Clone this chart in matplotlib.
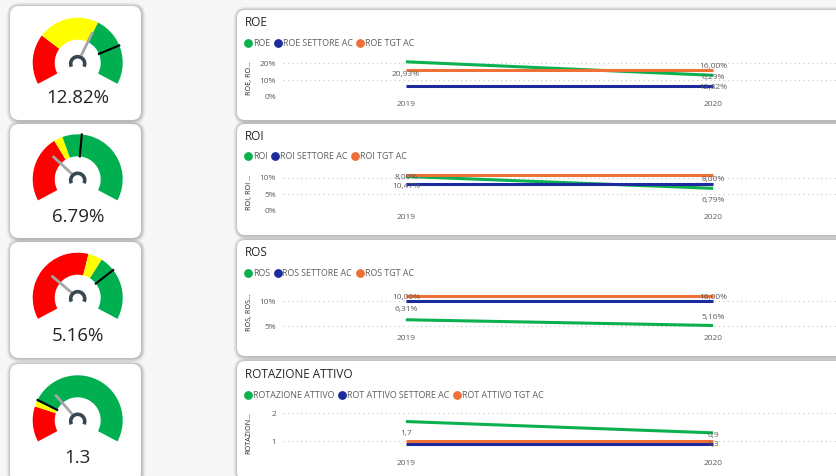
import math
import matplotlib
matplotlib.use('Agg')
import matplotlib.pyplot as plt
from matplotlib.patches import Wedge, FancyBboxPatch, Arc
from matplotlib.lines import Line2D

plt.rcParams['font.family'] = ['Open Sans', 'DejaVu Sans']

W, H = 836, 476

# ---------------- data ----------------
years = [2019, 2020]
year_labels = ["2019", "2020"]

roe = [20.93, 12.82]
roe_settore = [6.29, 6.29]
roe_tgt = [16.0, 16.0]

roi = [10.47, 6.79]
roi_settore = [8.0, 8.0]
roi_tgt = [11.0, 11.0]

ros = [6.31, 5.16]
ros_settore = [10.0, 10.0]
ros_tgt = [11.0, 11.0]

rot = [1.7, 1.3]
rot_settore = [0.9, 0.9]
rot_tgt = [1.0, 1.0]

gauge_values = [12.82, 6.79, 5.16, 1.3]
gauge_texts = ["12.82%", "6.79%", "5.16%", "1.3"]
gauge_max = [21.0, 22.6, 17.9, 4.0]
gauge_red_end = [5.8, 8.3, 10.0, 0.78]
gauge_yellow_end = [12.9, 9.4, 11.4, 0.9]
gauge_target = [16.5, 11.8, 12.9, 0.93]

GREEN = '#0BB04F'
BLUE = '#1B2A9C'
ORANGE = '#EE7037'
TXT = '#252423'
GREY = '#605E5C'


def pct(v):
    return f"{v:.2f}".replace('.', ',') + '%'


def dec(v):
    return f"{v:.1f}".replace('.', ',')


panels = [
    dict(title="ROE", names=["ROE", "ROE SETTORE AC", "ROE TGT AC"],
         series=[roe, roe_settore, roe_tgt], fmt=pct, ylabel="ROE, RO…",
         ylim=(0, 22), yticks=[0, 10, 20], yticklabels=["0%", "10%", "20%"],
         card=(237, 10, 850, 120), axpx=(60.0, 96.7), title_y=22, leg_y=44,
         # (text series, year idx, anchor series, pixel offset downwards)
         labels=[(0, 0, 0, 13), (2, 1, 2, -4), (1, 1, 0, 2), (0, 1, 1, 1)]),
    dict(title="ROI", names=["ROI", "ROI SETTORE AC", "ROI TGT AC"],
         series=[roi, roi_settore, roi_tgt], fmt=pct, ylabel="ROI, ROI …",
         ylim=(0, 11.5), yticks=[0, 5, 10], yticklabels=["0%", "5%", "10%"],
         card=(237, 124, 850, 235), axpx=(173.1, 210.3), title_y=136, leg_y=157,
         labels=[(1, 0, 0, 1), (0, 0, 1, 2), (1, 1, 1, -5), (0, 1, 0, 12)]),
    dict(title="ROS", names=["ROS", "ROS SETTORE AC", "ROS TGT AC"],
         series=[ros, ros_settore, ros_tgt], fmt=pct, ylabel="ROS, ROS…",
         ylim=(4, 11.5), yticks=[5, 10], yticklabels=["5%", "10%"],
         card=(237, 240, 850, 356), axpx=(293.8, 331.3), title_y=253, leg_y=274,
         labels=[(1, 0, 2, 1), (0, 0, 0, -10), (1, 1, 2, 1), (0, 1, 0, -8)]),
    dict(title="ROTAZIONE ATTIVO",
         names=["ROTAZIONE ATTIVO", "ROT ATTIVO SETTORE AC", "ROT ATTIVO TGT AC"],
         series=[rot, rot_settore, rot_tgt], fmt=dec, ylabel="ROTAZION…",
         ylim=(0.5, 2.1), yticks=[1, 2], yticklabels=["1", "2"],
         card=(237, 361, 850, 480), axpx=(410.2, 455.5), title_y=374, leg_y=396,
         labels=[(0, 0, 0, 12), (1, 1, 0, 3), (0, 1, 1, 0)]),
]

colors = [GREEN, BLUE, ORANGE]

fig = plt.figure(figsize=(W / 100, H / 100), dpi=100)
fig.patch.set_facecolor('#F7F7F7')

bg = fig.add_axes([0, 0, 1, 1])
bg.set_xlim(0, W)
bg.set_ylim(0, H)
bg.axis('off')
bg.set_zorder(0)


def card(x0, y0, x1, y1, r=8):
    # y in pixel (top-down)
    for k, a in [(4, 0.035), (3, 0.05), (2, 0.07), (1, 0.09)]:
        bg.add_patch(FancyBboxPatch((x0 - k + 0.5, H - y1 - k - 0.5), (x1 - x0) + 2 * k, (y1 - y0) + 2 * k,
                                    boxstyle=f"round,pad=0,rounding_size={r + k}",
                                    fc='#000000', ec='none', alpha=a, zorder=1))
    bg.add_patch(FancyBboxPatch((x0, H - y1), x1 - x0, y1 - y0,
                                boxstyle=f"round,pad=0,rounding_size={r}",
                                fc='white', ec='none', zorder=2))


# ---------------- gauges ----------------
gauge_cards = [(10, 6, 141, 120), (10, 124, 141, 238), (10, 242, 141, 358), (10, 364, 141, 482)]
gauge_cy = [62.7, 179.3, 297.7, 420.3]
value_y = [98, 216.7, 336, 457.7]
A0, SPAN = 208.0, 236.0
R, RIN = 45.0, 23.0
CX = 77.7

for i in range(4):
    card(*gauge_cards[i], r=9)
    cx, cy = CX, H - gauge_cy[i]
    mx = gauge_max[i]

    def ang(v):
        return A0 - SPAN * v / mx

    a_red = ang(gauge_red_end[i])
    a_yel = ang(gauge_yellow_end[i])
    bg.add_patch(Wedge((cx, cy), R, a_red, A0, width=R - RIN, fc='#FF0000', ec='none', zorder=3))
    bg.add_patch(Wedge((cx, cy), R, a_yel, a_red, width=R - RIN, fc='#FFFF00', ec='none', zorder=3))
    bg.add_patch(Wedge((cx, cy), R, A0 - SPAN, a_yel, width=R - RIN, fc='#00B050', ec='none', zorder=3))
    at = math.radians(ang(gauge_target[i]))
    bg.plot([cx + RIN * math.cos(at), cx + R * math.cos(at)],
            [cy + RIN * math.sin(at), cy + R * math.sin(at)], color='black', lw=1.5, zorder=4)
    av = math.radians(ang(gauge_values[i]))
    bg.plot([cx + 9 * math.cos(av), cx + 33 * math.cos(av)],
            [cy + 9 * math.sin(av), cy + 33 * math.sin(av)], color='#A6A6A6', lw=2, zorder=4,
            solid_capstyle='round')
    bg.add_patch(Arc((cx, cy - 1), 14, 14, theta1=-25, theta2=205, color='#37474F', lw=2.6, zorder=5))
    bg.text(cx, H - value_y[i], gauge_texts[i], ha='center', va='center', fontsize=13.5, color=TXT, zorder=5)

# ---------------- line charts ----------------
AX_L, AX_R = 283, 836
for p in panels:
    card(*p['card'], r=8)
    top, bot = p['axpx']
    ax = fig.add_axes([AX_L / W, 1 - bot / H, (AX_R - AX_L) / W, (bot - top) / H])
    ax.set_zorder(2)
    ax.set_facecolor('none')
    ax.set_xlim(2018.6, 2020.4)
    ax.set_ylim(*p['ylim'])
    for s, c in zip(p['series'], colors):
        ax.plot(years, s, color=c, lw=2.2, solid_capstyle='butt', zorder=3)
    ax.set_xticks(years)
    ax.set_xticklabels(year_labels)
    ax.set_yticks(p['yticks'])
    ax.set_yticklabels(p['yticklabels'])
    ax.tick_params(length=0, labelsize=6, colors=GREY)
    ax.tick_params(axis='x', pad=3)
    ax.tick_params(axis='y', pad=5)
    ax.grid(axis='y', color='#C8C6C4', linestyle=(0, (1, 3)), lw=0.8)
    ax.grid(axis='x', visible=False)
    for sp in ax.spines.values():
        sp.set_visible(False)
    for (ts, yi, an, dy) in p['labels']:
        ax.annotate(p['fmt'](p['series'][ts][yi]), (years[yi], p['series'][an][yi]),
                    xytext=(0, -dy * 0.72), textcoords='offset points',
                    ha='center', va='center', fontsize=6, color=GREY, zorder=4)
    x0 = p['card'][0]
    fig.text((x0 + 8) / W, 1 - p['title_y'] / H, p['title'], ha='left', va='center',
             fontsize=8.5, color=TXT)
    fig.text(249 / W, 1 - ((top + bot) / 2) / H, p['ylabel'], rotation=90, ha='center',
             va='center', fontsize=5.2, color=TXT)
    handles = [Line2D([], [], marker='o', linestyle='', markersize=5.3, color=c) for c in colors]
    fig.legend(handles, p['names'], loc='center left',
               bbox_to_anchor=((x0 + 8) / W, 1 - p['leg_y'] / H), ncol=3, frameon=False,
               fontsize=6.4, labelcolor=GREY, handlelength=0.7, handletextpad=0.2,
               columnspacing=0.5, borderpad=0, borderaxespad=0)

fig.savefig('out.png', dpi=100, facecolor=fig.get_facecolor())
